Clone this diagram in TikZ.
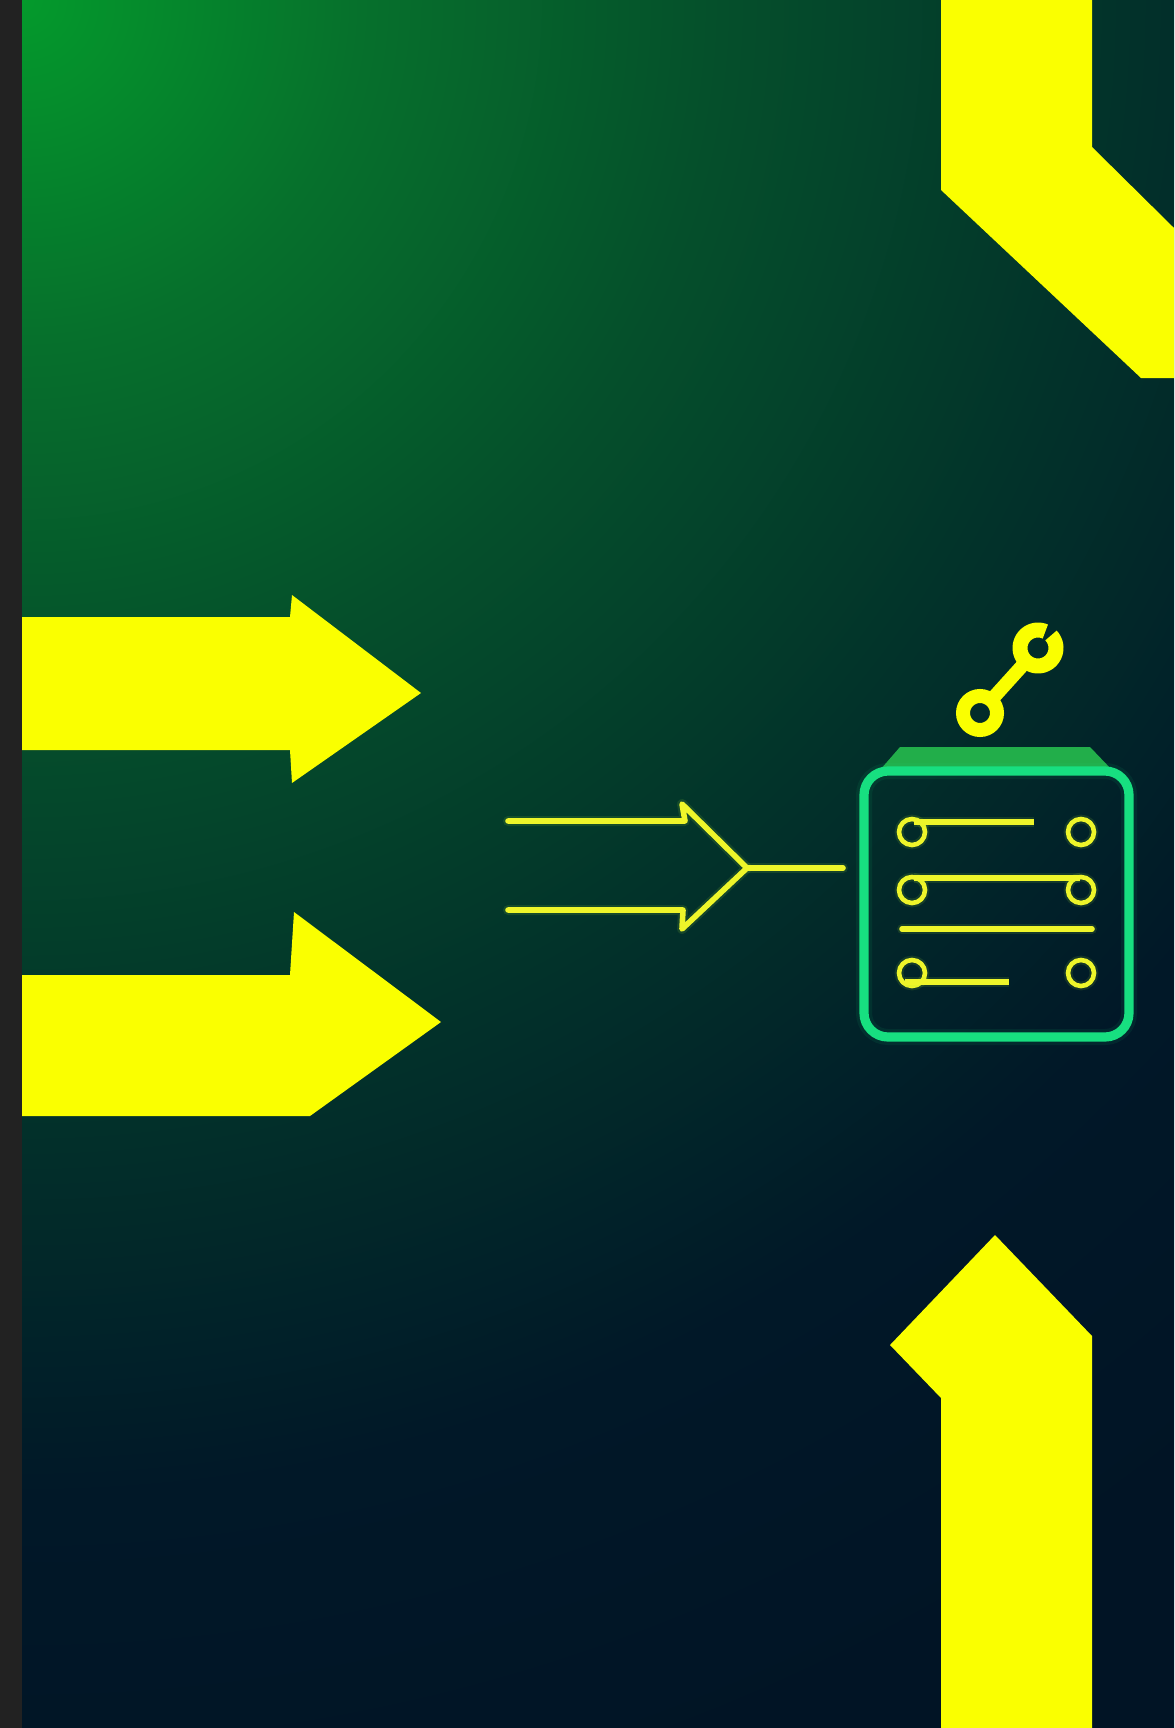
\documentclass[tikz,border=0pt]{standalone}
\usepackage{tikz}
\definecolor{bgA}{HTML}{049A2C}
\definecolor{bgB}{HTML}{06702C}
\definecolor{bgC}{HTML}{054F2B}
\definecolor{bgD}{HTML}{02322A}
\definecolor{bgE}{HTML}{011828}
\definecolor{bgF}{HTML}{011425}
\definecolor{arrowY}{HTML}{FAFF00}
\definecolor{lineY}{HTML}{EEF52A}
\definecolor{glowY}{HTML}{A8E830}
\definecolor{cardG}{HTML}{17DF80}
\definecolor{lidG}{HTML}{22AE4A}
\definecolor{barK}{HTML}{222222}
\pgfdeclareradialshading{bgshade}{\pgfpoint{0bp}{0bp}}{%
color(0bp)=(bgA);
color(3.85bp)=(bgB);
color(7.95bp)=(bgC);
color(12.5bp)=(bgD);
color(17bp)=(bgE);
color(21.5bp)=(bgF);
color(50bp)=(bgF)}
\tikzset{
  bigarrow/.style={fill=arrowY,draw=none},
  thinline/.style={draw=lineY,line width=2.8pt,line cap=round,line join=round},
  thinglow/.style={draw=glowY,line width=5pt,line cap=round,line join=round,opacity=.12},
  ring/.style={draw=lineY,line width=2.3pt},
  ringglow/.style={draw=glowY,line width=4.4pt,opacity=.12},
  wrench/.style={draw=arrowY,line width=7pt},
}
\begin{document}
\begin{tikzpicture}[x=0.5pt,y=-0.5pt]
\useasboundingbox (0,0) rectangle (1174,1728);
\fill[barK] (0,0) rectangle (22,1728);
\begin{scope}
\clip (22,0) rectangle (1174,1728);
\shade[shading=bgshade] (22,0) circle (2200);
\fill[bigarrow] (941,0) -- (1092,0) -- (1092,147) -- (1174,228) -- (1174,378) -- (1141,378) -- (941,190) -- cycle;
\fill[bigarrow] (22,617) -- (290,617) -- (292,595) -- (421,693) -- (292,783) -- (290,750) -- (22,750) -- cycle;
\fill[bigarrow] (22,975) -- (290,975) -- (294,912) -- (441,1022) -- (310,1116) -- (22,1116) -- cycle;
\fill[bigarrow] (995,1235) -- (1092,1336) -- (1092,1728) -- (941,1728) -- (941,1398) -- (890,1345) -- cycle;
\end{scope}
% small merge arrow
\coordinate (tipM) at (747,868);
\coordinate (endM) at (843,868);
\foreach \s in {thinglow,thinline}{
  \draw[\s] (508,821) -- (685,821) -- (682,804) -- (tipM) -- (682,929) -- (683,910) -- (508,910);
  \draw[\s] (tipM) -- (endM);
}
% card
\fill[lidG] (880,770) -- (900,747) -- (1090,747) -- (1112,770) -- cycle;
\draw[cardG,line width=8pt,opacity=.08,rounded corners=12pt] (864,771) rectangle (1129,1037);
\draw[cardG,line width=4.6pt,rounded corners=12pt] (864,771) rectangle (1129,1037);
% card content
\coordinate (r1) at (912,832); \coordinate (r2) at (1081,832);
\coordinate (r3) at (912,890); \coordinate (r4) at (1081,890);
\coordinate (r5) at (912,973); \coordinate (r6) at (1081,973);
\foreach \c in {r1,r2,r3,r4,r5,r6}{\draw[ringglow] (\c) circle (13); \draw[ring] (\c) circle (13);}
\foreach \s in {thinglow,thinline}{
  \draw[\s,line cap=butt] (914,822) -- (1034,822);
  \draw[\s,line cap=butt] (914,878) -- (1080,878);
  \draw[\s] (902,929) -- (1092,929);
  \draw[\s,line cap=butt] (905,982) -- (1009,982);
}
% wrench
\coordinate (wA) at (980,713);
\coordinate (wB) at (1038,648);
\draw[wrench] (wA) circle (17);
\draw[wrench,line width=6.8pt] (994,697) -- (1022,666);
\draw[wrench,line width=7.5pt] plot[domain=66:404,samples=50] ({1038+18*cos(\x)},{648-18*sin(\x)});
\end{tikzpicture}
\end{document}
